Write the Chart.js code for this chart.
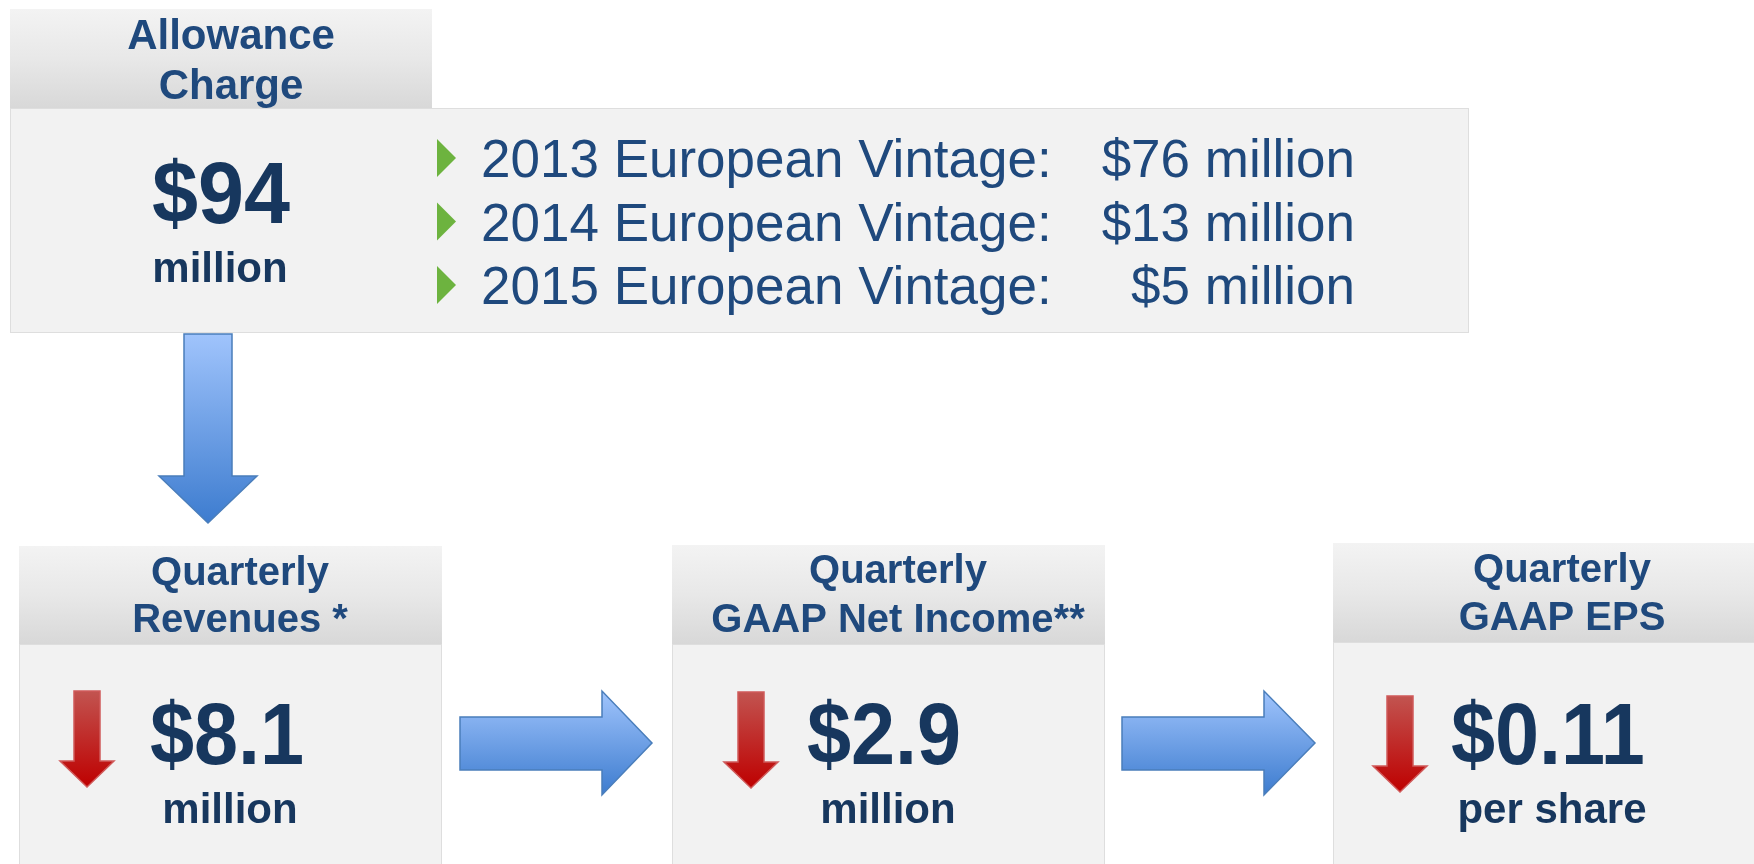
<!DOCTYPE html>
<html>
<head>
<meta charset="utf-8">
<script src="https://cdn.jsdelivr.net/npm/chart.js@4.4.0/dist/chart.umd.min.js"></script>
<style>
  html, body { margin: 0; padding: 0; background: #fff; }
  canvas { display: block; }
</style>
</head>
<body>
<canvas id="flowChart" width="1754" height="864"></canvas>
<script>
// Allowance charge and its vintages ($ million)
const allowanceTitle = ["Allowance", "Charge"];
const allowanceTotal = 94;
const vintageYears = ["2013", "2014", "2015"];
const vintageAmounts = [76, 13, 5];

// Quarterly impact
const metricTitles = [["Quarterly", "Revenues *"], ["Quarterly", "GAAP Net Income**"], ["Quarterly", "GAAP EPS"]];
const metricValues = [8.1, 2.9, 0.11];
const metricUnits = ["million", "million", "per share"];

// layout, in the 1754 x 864 coordinate space of the hidden scales
const topHeader = { x0: 10, x1: 432, y0: 9, y1: 108, cx: 231, lines: [49, 99] };
const topBody = { x0: 10, x1: 1469, y0: 108, y1: 333 };
const metricBoxes = [
  { x0: 19, x1: 442, y0: 546, mid: 644, cx: 240, lines: [585, 632], valueX: 150, unitX: 230, arrowX: 87, arrowTop: 691 },
  { x0: 672, x1: 1105, y0: 545, mid: 644, cx: 898, lines: [583, 632], valueX: 807, unitX: 888, arrowX: 751, arrowTop: 692 },
  { x0: 1333, x1: 1770, y0: 543, mid: 642, cx: 1562, lines: [582, 630], valueX: 1451, unitX: 1552, arrowX: 1400, arrowTop: 696 }
];
const flowArrows = [
  { x0: 460, x1: 602, tip: 652 },
  { x0: 1122, x1: 1264, tip: 1315 }
];

const FONT = '"Liberation Sans", Arial, sans-serif';
const TITLE_BLUE = "#1f497d";
const NAVY = "#17375e";

function drawText(ctx, str, x, y, font, color, align, sx) {
  ctx.save();
  ctx.font = font;
  ctx.fillStyle = color;
  ctx.textAlign = align;
  ctx.textBaseline = "alphabetic";
  ctx.translate(x, y);
  ctx.scale(sx || 1, 1);
  ctx.fillText(str, 0, 0);
  ctx.restore();
}

function polygon(ctx, pts, fill, stroke) {
  ctx.beginPath();
  pts.forEach((p, i) => (i ? ctx.lineTo(p[0], p[1]) : ctx.moveTo(p[0], p[1])));
  ctx.closePath();
  ctx.fillStyle = fill;
  ctx.fill();
  ctx.strokeStyle = stroke;
  ctx.lineWidth = 1.5;
  ctx.stroke();
}

const infographic = {
  id: "infographic",
  afterDraw(chart) {
    const ctx = chart.ctx;
    const xs = chart.scales.x;
    const ys = chart.scales.y;
    const X = (v) => xs.getPixelForValue(v);
    const Y = (v) => ys.getPixelForValue(v);

    const header = (b, y0, y1) => {
      const g = ctx.createLinearGradient(0, Y(y0), 0, Y(y1));
      g.addColorStop(0, "#f3f3f3");
      g.addColorStop(0.5, "#e8e8e8");
      g.addColorStop(1, "#d8d8d8");
      ctx.fillStyle = g;
      ctx.fillRect(X(b.x0), Y(y0), X(b.x1) - X(b.x0), Y(y1) - Y(y0));
    };
    const body = (x0, x1, y0, y1) => {
      ctx.fillStyle = "#f2f2f2";
      ctx.fillRect(X(x0), Y(y0), X(x1) - X(x0), Y(y1) - Y(y0));
      ctx.strokeStyle = "#dedede";
      ctx.lineWidth = 1;
      ctx.strokeRect(X(x0) + 0.5, Y(y0) + 0.5, X(x1) - X(x0) - 1, Y(y1) - Y(y0) - 1);
    };
    const blueGrad = (y0, y1) => {
      const g = ctx.createLinearGradient(0, Y(y0), 0, Y(y1));
      g.addColorStop(0, "#a0c4fc");
      g.addColorStop(1, "#3d7ccf");
      return g;
    };

    // top block
    body(topBody.x0, topBody.x1, topBody.y0, topBody.y1);
    header(topHeader, topHeader.y0, topHeader.y1);
    allowanceTitle.forEach((t, i) =>
      drawText(ctx, t, X(topHeader.cx), Y(topHeader.lines[i]), "bold 42px " + FONT, TITLE_BLUE, "center"));
    drawText(ctx, "$" + allowanceTotal, X(221), Y(223), "bold 88px " + FONT, NAVY, "center", 0.94);
    drawText(ctx, "million", X(220), Y(282), "bold 42px " + FONT, NAVY, "center");

    // vintage rows
    vintageYears.forEach((yr, i) => {
      const base = 177 + i * 63.5;
      const tri = [[X(437), Y(base - 38)], [X(456), Y(base - 19)], [X(437), Y(base)]];
      ctx.beginPath();
      tri.forEach((p, k) => (k ? ctx.lineTo(p[0], p[1]) : ctx.moveTo(p[0], p[1])));
      ctx.closePath();
      ctx.fillStyle = "#6db33f";
      ctx.fill();
      drawText(ctx, yr + " European Vintage:", X(481), Y(base), "53px " + FONT, TITLE_BLUE, "left");
      drawText(ctx, "$" + vintageAmounts[i] + " million", X(1355), Y(base), "53px " + FONT, TITLE_BLUE, "right");
    });

    // down arrow from the allowance charge
    polygon(ctx, [[184, 334], [232, 334], [232, 476], [257, 476], [208, 523], [159, 476], [184, 476]]
      .map((p) => [X(p[0]), Y(p[1])]), blueGrad(334, 523), "#4a7ebb");

    // quarterly boxes
    metricBoxes.forEach((b, i) => {
      body(b.x0, b.x1, b.mid, 900);
      header(b, b.y0, b.mid);
      metricTitles[i].forEach((t, k) =>
        drawText(ctx, t, X(b.cx), Y(b.lines[k]), "bold 40px " + FONT, TITLE_BLUE, "center"));

      // red down arrow
      const ax = b.arrowX, at = b.arrowTop;
      const g = ctx.createLinearGradient(0, Y(at), 0, Y(at + 96));
      g.addColorStop(0, "#c25450");
      g.addColorStop(1, "#be0000");
      polygon(ctx, [[ax - 13, at], [ax + 13, at], [ax + 13, at + 70], [ax + 27, at + 70], [ax, at + 96],
        [ax - 27, at + 70], [ax - 13, at + 70]].map((p) => [X(p[0]), Y(p[1])]), g, "#d05a5a");

      drawText(ctx, "$" + metricValues[i], X(b.valueX), Y(764), "bold 88px " + FONT, NAVY, "left", 0.9);
      drawText(ctx, metricUnits[i], X(b.unitX), Y(823), "bold 42px " + FONT, NAVY, "center");
    });

    // flow arrows between the boxes
    flowArrows.forEach((a) => {
      polygon(ctx, [[a.x0, 717], [a.x1, 717], [a.x1, 691], [a.tip, 743], [a.x1, 795], [a.x1, 770], [a.x0, 770]]
        .map((p) => [X(p[0]), Y(p[1])]), blueGrad(691, 795), "#4a7ebb");
    });
  }
};

const flowCtx = document.getElementById("flowChart").getContext("2d");
new Chart(flowCtx, {
  type: "scatter",
  data: { datasets: [] },
  options: {
    responsive: false,
    animation: false,
    layout: { padding: 0 },
    plugins: { legend: { display: false }, tooltip: { enabled: false } },
    scales: {
      x: { type: "linear", min: 0, max: 1754, display: false },
      y: { type: "linear", min: 0, max: 864, reverse: true, display: false }
    }
  },
  plugins: [infographic]
});
</script>
</body>
</html>
